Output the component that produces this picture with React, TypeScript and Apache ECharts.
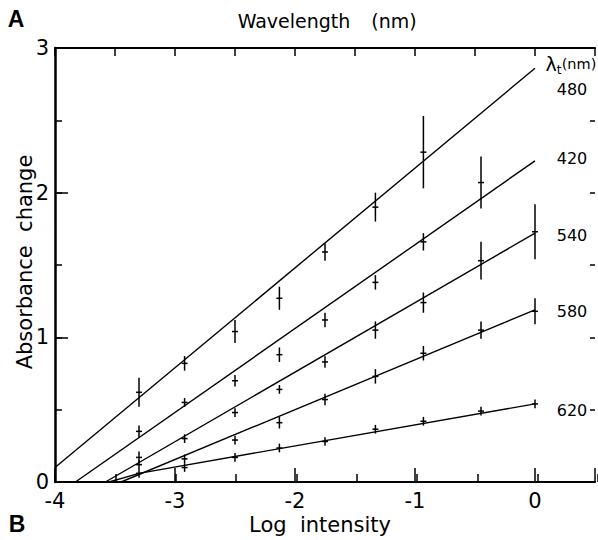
import React, { useEffect, useRef } from "react";
import * as echarts from "echarts";

// x positions (log intensity) and absorbance change values per test wavelength
const x480 = [-3.3, -2.92, -2.5, -2.13, -1.75, -1.33, -0.93];
const y480 = [0.62, 0.82, 1.04, 1.27, 1.59, 1.9, 2.28];
const e480 = [0.1, 0.05, 0.08, 0.08, 0.06, 0.1, 0.25];

const x420 = [-3.3, -2.92, -2.5, -2.13, -1.75, -1.33, -0.93, -0.45];
const y420 = [0.35, 0.55, 0.7, 0.88, 1.12, 1.38, 1.66, 2.07];
const e420 = [0.04, 0.03, 0.04, 0.05, 0.05, 0.05, 0.06, 0.18];

const x540 = [-3.3, -2.92, -2.5, -2.13, -1.75, -1.33, -0.93, -0.45, 0];
const y540 = [0.17, 0.3, 0.48, 0.64, 0.83, 1.05, 1.24, 1.53, 1.73];
const e540 = [0.04, 0.03, 0.03, 0.03, 0.04, 0.06, 0.07, 0.13, 0.19];

const x580 = [-3.3, -2.92, -2.5, -2.13, -1.75, -1.33, -0.93, -0.45, 0];
const y580 = [0.12, 0.16, 0.29, 0.41, 0.57, 0.73, 0.89, 1.05, 1.18];
const e580 = [0.03, 0.03, 0.03, 0.04, 0.04, 0.05, 0.05, 0.06, 0.09];

const x620 = [-3.3, -2.92, -2.5, -2.13, -1.75, -1.33, -0.93, -0.45, 0];
const y620 = [0.06, 0.1, 0.17, 0.235, 0.28, 0.365, 0.42, 0.49, 0.54];
const e620 = [0.03, 0.03, 0.03, 0.03, 0.03, 0.03, 0.03, 0.03, 0.03];

// fitted straight lines
const fit480 = [[-4, 0.1], [0, 2.86]];
const fit420 = [[-3.83, 0], [0, 2.22]];
const fit540 = [[-3.58, 0], [0, 1.72]];
const fit580 = [[-3.45, 0], [0, 1.19]];
const fit620 = [[-3.55, 0], [-3.3, 0.06], [0, 0.54]];

const wavelengths = ["480", "420", "540", "580", "620"];
const xTickValues = [-4, -3, -2, -1, 0];
const yTickValues = [0, 1, 2, 3];

const FONT = "'DejaVu Sans', 'Liberation Sans', sans-serif";

function pts(xs: number[], ys: number[], es: number[]) {
  return xs.map((x, i) => [x, ys[i], es[i]]);
}

export default function App() {
  const ref = useRef<HTMLDivElement>(null);
  useEffect(() => {
    if (!ref.current) return;
    const chart = echarts.init(ref.current, undefined, { renderer: "svg" });

    const renderErr = (params: any, api: any) => {
      const x = api.value(0);
      const y = api.value(1);
      const e = api.value(2);
      const p = api.coord([x, y]);
      const hi = api.coord([x, y + e]);
      const lo = api.coord([x, y - e]);
      return {
        type: "group",
        children: [
          {
            type: "line",
            shape: { x1: p[0], y1: hi[1], x2: p[0], y2: lo[1] },
            style: { stroke: "#000", lineWidth: 1.5 },
          },
          {
            type: "line",
            shape: { x1: p[0] - 3, y1: p[1], x2: p[0] + 3, y2: p[1] },
            style: { stroke: "#000", lineWidth: 1.5 },
          },
        ],
      };
    };

    const errSeries = [
      pts(x480, y480, e480),
      pts(x420, y420, e420),
      pts(x540, y540, e540),
      pts(x580, y580, e580),
      pts(x620, y620, e620),
    ].map((d, i) => ({
      type: "custom",
      name: "pts" + wavelengths[i],
      xAxisIndex: 0,
      yAxisIndex: 0,
      renderItem: renderErr,
      encode: { x: 0, y: 1 },
      data: d,
      z: 3,
    }));

    const fitSeries = [fit480, fit420, fit540, fit580, fit620].map((d, i) => ({
      type: "line",
      name: "fit" + wavelengths[i],
      xAxisIndex: 0,
      yAxisIndex: 0,
      data: d,
      symbol: "none",
      lineStyle: { color: "#000", width: 1.4 },
      clip: true,
      z: 2,
    }));

    const gridRect = { left: 55, top: 48, width: 545, height: 434 };
    const labelPos = [89, 158, 235, 311, 410];

    chart.setOption({
      animation: false,
      backgroundColor: "#fff",
      grid: [
        { ...gridRect, containLabel: false },
        { ...gridRect, containLabel: false },
      ],
      xAxis: [
        {
          type: "value",
          gridIndex: 0,
          position: "bottom",
          min: -4,
          max: 0.5,
          interval: 1,
          axisLine: { show: true, onZero: false, lineStyle: { color: "#000", width: 2 } },
          axisTick: { show: true, inside: true, length: 14, lineStyle: { color: "#000", width: 1.5 } },
          axisLabel: {
            show: true,
            margin: 8,
            color: "#000",
            fontSize: 21,
            fontFamily: FONT,
            formatter: (v: number) => (xTickValues.includes(v) ? String(v) : ""),
          },
          splitLine: { show: false },
        },
        {
          type: "value",
          gridIndex: 0,
          position: "top",
          min: -4,
          max: 0.5,
          interval: 0.5,
          axisLine: { show: true, onZero: false, lineStyle: { color: "#000", width: 2 } },
          axisTick: { show: true, inside: true, length: 8, lineStyle: { color: "#000", width: 1.5 } },
          axisLabel: { show: false },
          splitLine: { show: false },
        },
        {
          type: "value",
          gridIndex: 1,
          position: "bottom",
          min: -4,
          max: 0.5,
          interval: 0.5,
          axisLine: { show: false, onZero: false },
          axisTick: { show: true, inside: true, length: 8, lineStyle: { color: "#000", width: 1.5 } },
          axisLabel: { show: false },
          splitLine: { show: false },
        },
      ],
      yAxis: [
        {
          type: "value",
          gridIndex: 0,
          position: "left",
          min: 0,
          max: 3,
          interval: 1,
          axisLine: { show: true, onZero: false, lineStyle: { color: "#000", width: 2.5 } },
          axisTick: { show: true, inside: true, length: 13, lineStyle: { color: "#000", width: 1.5 } },
          axisLabel: {
            show: true,
            margin: 6,
            color: "#000",
            fontSize: 21,
            fontFamily: FONT,
            formatter: (v: number) => (yTickValues.includes(v) ? String(v) : ""),
          },
          splitLine: { show: false },
        },
        {
          type: "value",
          gridIndex: 0,
          position: "right",
          min: 0,
          max: 3,
          interval: 0.5,
          axisLine: { show: false, onZero: false },
          axisTick: { show: true, inside: true, length: 5, lineStyle: { color: "#000", width: 1.5 } },
          axisLabel: { show: false },
          splitLine: { show: false },
        },
        {
          type: "value",
          gridIndex: 1,
          position: "left",
          min: 0,
          max: 3,
          interval: 0.5,
          axisLine: { show: false, onZero: false },
          axisTick: { show: true, inside: true, length: 7, lineStyle: { color: "#000", width: 1.5 } },
          axisLabel: { show: false },
          splitLine: { show: false },
        },
      ],
      graphic: [
        {
          type: "text",
          x: 16,
          y: 19,
          style: { text: "A", fontSize: 23, fontWeight: "bold", fontFamily: "'Liberation Sans', sans-serif", fill: "#000", align: "center", verticalAlign: "middle" },
        },
        {
          type: "text",
          x: 17,
          y: 524,
          style: { text: "B", fontSize: 23, fontWeight: "bold", fontFamily: "'Liberation Sans', sans-serif", fill: "#000", align: "center", verticalAlign: "middle" },
        },
        {
          type: "text",
          x: 294,
          y: 21,
          style: { text: "Wavelength", fontSize: 19, fontFamily: FONT, fill: "#000", align: "center", verticalAlign: "middle" },
        },
        {
          type: "text",
          x: 394,
          y: 21,
          style: { text: "(nm)", fontSize: 19, fontFamily: FONT, fill: "#000", align: "center", verticalAlign: "middle" },
        },
        {
          type: "text",
          x: 320,
          y: 525,
          style: { text: "Log  intensity", fontSize: 21, fontFamily: FONT, fill: "#000", align: "center", verticalAlign: "middle" },
        },
        {
          type: "text",
          x: 25,
          y: 262,
          rotation: Math.PI / 2,
          style: { text: "Absorbance  change", fontSize: 21, fontFamily: FONT, fill: "#000", align: "center", verticalAlign: "middle" },
        },
        {
          type: "text",
          x: 551,
          y: 64,
          style: { text: "λ", fontSize: 19, fontFamily: FONT, fill: "#000", align: "center", verticalAlign: "middle" },
        },
        {
          type: "text",
          x: 559,
          y: 70,
          style: { text: "t", fontSize: 12, fontFamily: FONT, fill: "#000", align: "center", verticalAlign: "middle" },
        },
        {
          type: "text",
          x: 579,
          y: 64,
          style: { text: "(nm)", fontSize: 14.5, fontFamily: FONT, fill: "#000", align: "center", verticalAlign: "middle" },
        },
        ...wavelengths.map((w, i) => ({
          type: "text",
          x: 572,
          y: labelPos[i],
          style: { text: w, fontSize: 16, fontFamily: FONT, fill: "#000", align: "center", verticalAlign: "middle" },
        })),
      ],
      series: [...fitSeries, ...errSeries],
    });

    return () => chart.dispose();
  }, []);

  return <div ref={ref} style={{ width: 598, height: 540, position: "absolute", left: 0, top: 0 }} />;
}
